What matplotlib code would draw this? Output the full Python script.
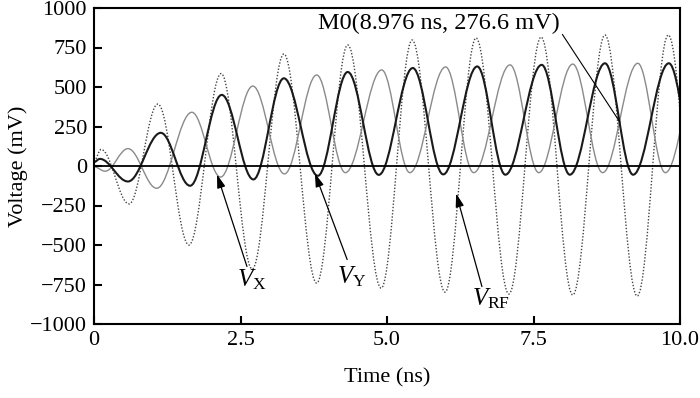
import matplotlib
matplotlib.use("Agg")
import matplotlib.pyplot as plt
from matplotlib.path import Path
from matplotlib.patches import PathPatch

plt.rcParams['font.family'] = ['Liberation Serif', 'DejaVu Serif']
plt.rcParams['mathtext.fontset'] = 'custom'
plt.rcParams['mathtext.rm'] = 'Liberation Serif'
plt.rcParams['mathtext.it'] = 'Liberation Serif:italic'

# ---- data: extrema (time in ns, voltage in mV) ----
vrf_t = [0.00, 0.12, 0.60, 1.09, 1.62, 2.17, 2.70, 3.24, 3.80, 4.33, 4.90,
         5.43, 5.99, 6.52, 7.08, 7.63, 8.17, 8.72, 9.27, 9.80, 10.35]
vrf_v = [30, 105, -240, 392, -500, 585, -652, 709, -741, 766, -773,
         797, -798, 810, -810, 816, -816, 829, -823, 829, -823]

vx_t = [0.00, 0.10, 0.58, 1.14, 1.64, 2.18, 2.72, 3.24, 3.82, 4.33, 4.86,
        5.44, 5.96, 6.54, 7.02, 7.64, 8.12, 8.72, 9.20, 9.81, 10.30]
vx_v = [25, 45, -98, 210, -125, 450, -85, 555, -62, 595, -56,
        620, -53, 630, -55, 640, -55, 650, -55, 650, -55]

vy_t = [0.00, 0.19, 0.58, 1.07, 1.67, 2.16, 2.71, 3.25, 3.80, 4.29, 4.91,
        5.39, 6.00, 6.48, 7.10, 7.59, 8.17, 8.68, 9.28, 9.75, 10.35]
vy_v = [-5, -33, 110, -141, 340, -70, 506, -50, 576, -42, 608,
        -42, 627, -42, 640, -42, 645, -42, 650, -42, 650]

x_ticks = [0, 2.5, 5.0, 7.5, 10.0]
x_tick_labels = ["0", "2.5", "5.0", "7.5", "10.0"]
y_ticks = [-1000, -750, -500, -250, 0, 250, 500, 750, 1000]

marker_t, marker_v = 8.976, 276.6
marker_text = "M0(8.976 ns, 276.6 mV)"

# label texts and arrow anchors (data coords)
labels = [r"$V_{\mathrm{X}}$", r"$V_{\mathrm{Y}}$", r"$V_{\mathrm{RF}}$"]
label_pos = [(2.44, -722), (4.14, -700), (6.45, -838)]
arrow_tail = [(2.61, -636), (4.32, -592), (6.62, -763)]
arrow_tip = [(2.10, -54), (3.77, -47), (6.18, -174)]


def smooth_path(ts, vs, a=0.363):
    verts = [(ts[0], vs[0])]
    codes = [Path.MOVETO]
    for i in range(len(ts) - 1):
        dt = ts[i + 1] - ts[i]
        verts += [(ts[i] + a * dt, vs[i]), (ts[i + 1] - a * dt, vs[i + 1]),
                  (ts[i + 1], vs[i + 1])]
        codes += [Path.CURVE4] * 3
    return Path(verts, codes)


fig = plt.figure(figsize=(7.0, 3.98), dpi=100)
ax = fig.add_axes([94 / 700, 1 - 324 / 398, 586 / 700, 316 / 398])

ax.add_patch(PathPatch(smooth_path(vrf_t, vrf_v), fill=False, color='#444444',
                       lw=1.0, linestyle=(0, (1, 1.3))))
ax.add_patch(PathPatch(smooth_path(vy_t, vy_v), fill=False, color='#8a8a8a', lw=1.0))
ax.add_patch(PathPatch(smooth_path(vx_t, vx_v), fill=False, color='#1a1a1a', lw=1.5))
ax.axhline(0, color='k', lw=1.3)

ax.set_xlim(0, 10)
ax.set_ylim(-1000, 1000)
ax.set_xticks(x_ticks)
ax.set_xticklabels(x_tick_labels)
ax.set_yticks(y_ticks)
for s in ax.spines.values():
    s.set_linewidth(1.5)
ax.tick_params(direction='in', length=6, width=1.5, labelsize=16, pad=5,
               top=False, right=False)
ax.set_xlabel("Time (ns)", fontsize=16)
ax.set_ylabel("Voltage (mV)", fontsize=16)
ax.xaxis.set_label_coords(0.5, -0.14)
ax.yaxis.set_label_coords(-0.112, 0.5)

# marker annotation
ax.annotate(marker_text, xy=(marker_t, marker_v), xytext=(3.82, 900),
            fontsize=17.5, va='center', ha='left',
            arrowprops=dict(arrowstyle='-', color='k', lw=0.8,
                            shrinkA=0, shrinkB=0, relpos=(1.0, 0.2)))

for lab, pos, tail, tip in zip(labels, label_pos, arrow_tail, arrow_tip):
    ax.text(pos[0], pos[1], lab, fontsize=18, ha='left', va='center')
    ax.annotate('', xy=tip, xytext=tail,
                arrowprops=dict(arrowstyle='-|>,head_length=0.8,head_width=0.25',
                                color='k', lw=0.9, shrinkA=0, shrinkB=0))

fig.savefig("out.png", dpi=100)
